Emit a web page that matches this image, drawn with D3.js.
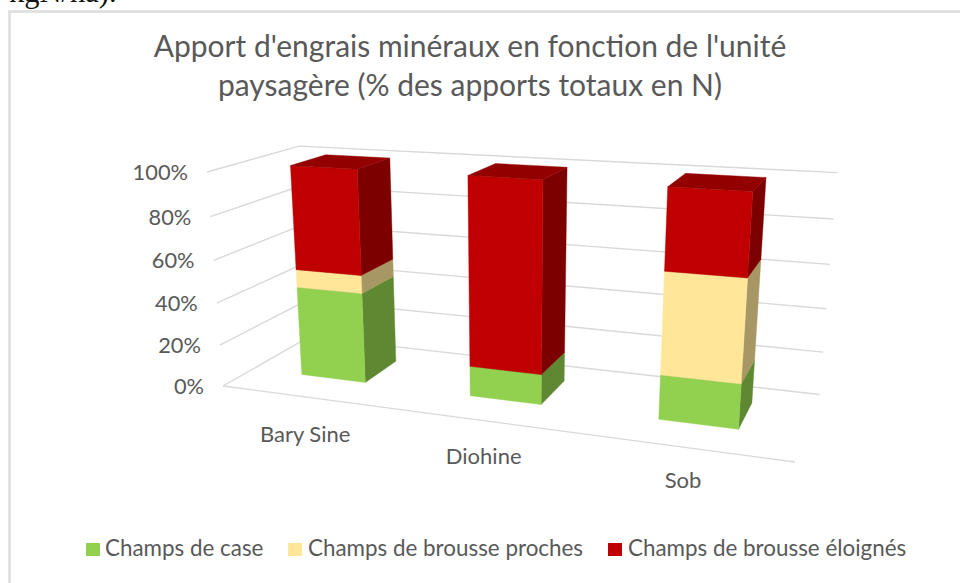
<!DOCTYPE html>
<html><head><meta charset="utf-8">
<script src="https://cdn.jsdelivr.net/npm/d3@7"></script>
<style>html,body{margin:0;padding:0;background:#fff;overflow:hidden}svg{display:block}</style>
</head><body><svg id="c" width="960" height="583"></svg>
<script>
const categories = ["Bary Sine","Diohine","Sob"];
const seriesNames = ["Champs de case","Champs de brousse proches","Champs de brousse éloignés"];
const caseValues = [43,14,20];
const prochesValues = [8.5,0,45];
const eloignesValues = [48.5,86,35];
const tickValues = [0,20,40,60,80,100];
const faceColors = ["#92d050","#ffe699","#c00000"];
const sideColors = ["#5f8832","#a69764","#7d0000"];
const topColors = ["#79ad42","#d4bf7f","#930000"];
const seriesValues = [caseValues,prochesValues,eloignesValues];

const svg = d3.select("#c");
const font = "Lato,'Open Sans',sans-serif";

// perspective frame of the 3D box
const O=[223,386],U=[795,462],V=[207,172],D=[309,337],UD=[821,393],VD=[306,146],UVD=[836,173];
function solve(A,b){const n=A.length,M=A.map((r,i)=>[...r,b[i]]);
  for(let i=0;i<n;i++){let p=i;for(let k=i;k<n;k++)if(Math.abs(M[k][i])>Math.abs(M[p][i]))p=k;[M[i],M[p]]=[M[p],M[i]];
    for(let k=0;k<n;k++)if(k!==i){const f=M[k][i]/M[i][i];for(let j=i;j<=n;j++)M[k][j]-=f*M[i][j];}}
  return M.map((r,i)=>r[n]/r[i]);}
const rows=[],rhs=[];
for(const c of [0,1]){
  rows.push([U[c]-UD[c],0,D[c]-UD[c]]);rhs.push(UD[c]-(U[c]+D[c]-O[c]));
  rows.push([0,V[c]-VD[c],D[c]-VD[c]]);rhs.push(VD[c]-(V[c]+D[c]-O[c]));
  rows.push([U[c]-UVD[c],V[c]-UVD[c],D[c]-UVD[c]]);rhs.push(UVD[c]-(U[c]+V[c]+D[c]-2*O[c]));
}
const ATA=[0,1,2].map(i=>[0,1,2].map(j=>d3.sum(rows,r=>r[i]*r[j])));
const ATb=[0,1,2].map(i=>d3.sum(rows,(r,k)=>r[i]*rhs[k]));
const [pa,pb,pc]=solve(ATA,ATb);
const ax=[0,1].map(c=>(pa+1)*U[c]-O[c]),bx=[0,1].map(c=>(pb+1)*V[c]-O[c]),cx=[0,1].map(c=>(pc+1)*D[c]-O[c]);
function proj(u,v,d){const w=pa*u+pb*v+pc*d+1;return [0,1].map(c=>(ax[c]*u+bx[c]*v+cx[c]*d+O[c])/w);}

const xScale=d3.scaleBand().domain(categories).range([0.102,0.898]).paddingInner(0.61).paddingOuter(0);
const yScale=d3.scaleLinear().domain([0,100]).range([0,1]);
const depth0=0.33,depth1=0.74;
const line=d3.line();

// chart frame and clipped caption
svg.append("text").attr("x",9).attr("y",2).attr("font-family","'Liberation Serif',serif").attr("font-size",30.5).attr("fill","#111").text("kgN/ha).");
svg.append("rect").attr("x",9.5).attr("y",11.5).attr("width",1000).attr("height",640).attr("fill","#fff").attr("stroke","#dedede").attr("stroke-width",2.6);

// title
const title=svg.append("text").attr("text-anchor","middle").attr("font-family",font).attr("font-size",30).attr("fill","#595959");
title.append("tspan").attr("x",470).attr("y",57).text("Apport d'engrais minéraux en fonction de l'unité");
title.append("tspan").attr("x",470).attr("y",96).text("paysagère (% des apports totaux en N)");

// walls
const grid=svg.append("g").attr("fill","none").attr("stroke","#d9d9d9").attr("stroke-width",1.4);
tickValues.forEach(t=>{const v=yScale(t);
  grid.append("path").attr("d",line([proj(0,v,0),proj(0,v,1),proj(1,v,1)]));
});
grid.append("path").attr("d",line([proj(0,0,0),proj(1,0,0)]));

// value axis labels
svg.append("g").selectAll("text").data(tickValues).join("text")
  .attr("text-anchor","end").attr("font-family",font).attr("font-size",21.8).attr("fill","#595959")
  .attr("x",t=>proj(0,yScale(t),0)[0]-19).attr("y",t=>proj(0,yScale(t),0)[1]+8).text(t=>t+"%");

// category labels
const labelDx=d3.scaleLinear().domain([0.17,0.84]).range([-28,-15]);
svg.append("g").selectAll("text").data(categories).join("text")
  .attr("text-anchor","middle").attr("font-family",font).attr("font-size",22).attr("fill","#595959")
  .attr("x",c=>{const u=xScale(c)+xScale.bandwidth()/2;return proj(u,0,depth0)[0]+labelDx(u);})
  .attr("y",c=>proj(xScale(c)+xScale.bandwidth()/2,0,depth0)[1]+64).text(c=>c);

// bars
categories.forEach((c,i)=>{
  const u0=xScale(c),u1=u0+xScale.bandwidth();
  const g=svg.append("g");
  let base=0;
  seriesValues.forEach((vals,s)=>{
    const val=vals[i]; if(!val) return;
    const b=yScale(base),t=yScale(base+val); base+=val;
    const face=(pts,col)=>g.append("path").attr("d",line(pts)+"Z").attr("fill",col).attr("stroke",col).attr("stroke-width",0.4);
    face([proj(u1,b,depth0),proj(u1,b,depth1),proj(u1,t,depth1),proj(u1,t,depth0)],sideColors[s]);
    face([proj(u0,b,depth0),proj(u1,b,depth0),proj(u1,t,depth0),proj(u0,t,depth0)],faceColors[s]);
    face([proj(u0,t,depth0),proj(u1,t,depth0),proj(u1,t,depth1),proj(u0,t,depth1)],topColors[s]);
  });
});

// legend
const legendX=[86,288,608],textX=[105,308,628];
const lg=svg.append("g");
seriesNames.forEach((n,i)=>{
  lg.append("rect").attr("x",legendX[i]).attr("y",543).attr("width",14).attr("height",13).attr("fill",faceColors[i]);
  lg.append("text").attr("x",textX[i]).attr("y",556).attr("font-family",font).attr("font-size",22.4).attr("fill","#595959").text(n);
});
</script></body></html>
